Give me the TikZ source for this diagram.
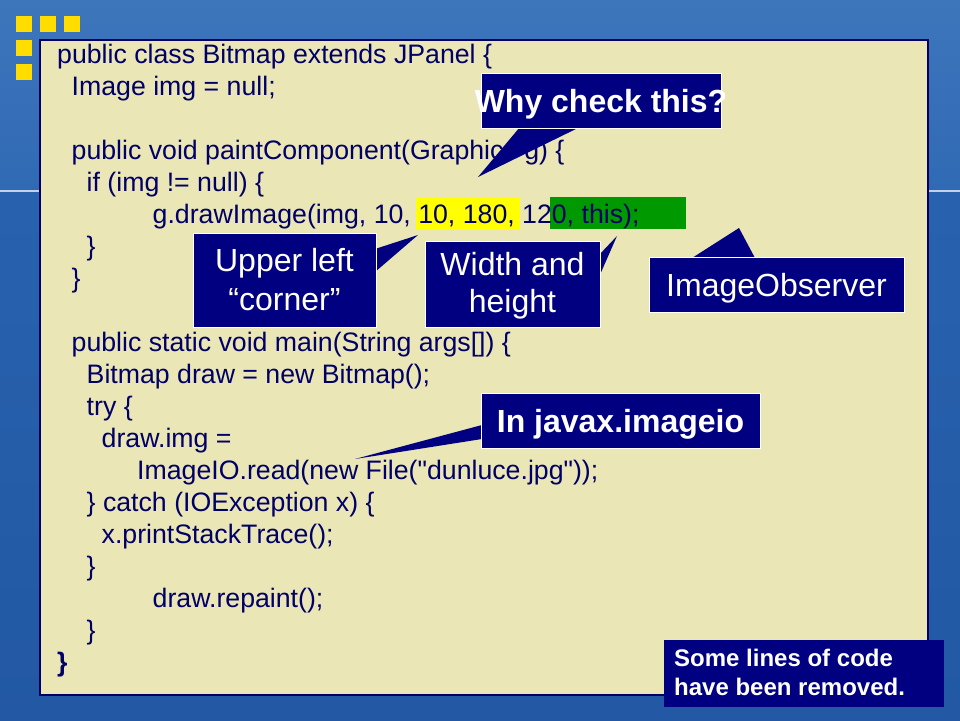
\documentclass[tikz,border=0pt]{standalone}
\usepackage{fontspec}
\setmainfont{Liberation Sans}
\newfontfamily\codefont{Liberation Sans}
\definecolor{bgtop}{RGB}{62,118,188}
\definecolor{bgmid}{RGB}{48,106,180}
\definecolor{bgmidb}{RGB}{40,98,174}
\definecolor{bgbot}{RGB}{34,88,164}
\definecolor{linecol}{RGB}{196,210,232}
\definecolor{sqyellow}{RGB}{255,221,0}
\definecolor{panelfill}{RGB}{234,230,182}
\definecolor{panelline}{RGB}{0,0,100}
\definecolor{codeblue}{RGB}{0,0,102}
\definecolor{navy}{RGB}{0,0,128}
\definecolor{hlyellow}{RGB}{255,255,0}
\definecolor{hlgreen}{RGB}{0,153,0}
\begin{document}
\begin{tikzpicture}[x=1pt,y=-1pt,
  code/.style={anchor=base west,inner sep=0pt,text=codeblue,font=\codefont\fontsize{26.7}{32}\selectfont},
  callbox/.style={fill=navy,draw=white,line width=0.8pt,inner sep=0pt,anchor=north west},
  calltext/.style={anchor=base,inner sep=0pt,text=white,font=\fontsize{32}{38}\selectfont},
  callbold/.style={calltext,font=\fontsize{32}{38}\selectfont\bfseries},
  notetext/.style={anchor=base west,inner sep=0pt,text=white,font=\fontsize{24}{29}\selectfont\bfseries},
  tail/.style={fill=navy},
  sq/.style={fill=sqyellow}]
\useasboundingbox (0,0) rectangle (960,720);
% background
\shade[top color=bgtop,bottom color=bgmid] (0,0) rectangle (960,190);
\shade[top color=bgmidb,bottom color=bgbot] (0,190) rectangle (960,720);
\draw[line width=2pt,linecol] (0,191) -- (960,191);
% yellow squares
\fill[sq] (16,16) rectangle (32,32);
\fill[sq] (40,16) rectangle (56,32);
\fill[sq] (64,16) rectangle (80,32);
\fill[sq] (16,40) rectangle (32,56);
\fill[sq] (16,64) rectangle (32,80);
% panel
\draw[fill=panelfill,draw=panelline,line width=2pt] (40,40) rectangle (928,695);
% highlights
\fill[hlyellow] (416,197) rectangle (520,229);
\fill[hlgreen] (550,197) rectangle (686,229);
% code
\node[code] (c1) at (57,63.5) {public class Bitmap extends JPanel \{};
\node[code] (c2) at (71.5,95.5) {Image img = null;};
\node[code] (c4) at (71.5,159.5) {public void paintComponent(Graphics g) \{};
\node[code] (c5) at (86.5,191.5) {if (img != null) \{};
\node[code] (c6) at (152.5,223.5) {g.drawImage(img, 10, 10, 180, 120, this);};
\node[code] (c7) at (86.5,255.5) {\}};
\node[code] (c8) at (71.5,287.5) {\}};
\node[code] (c10) at (71.5,351.5) {public static void main(String args[]) \{};
\node[code] (c11) at (86.5,383.5) {Bitmap draw = new Bitmap();};
\node[code] (c12) at (86.5,415.5) {try \{};
\node[code] (c13) at (101.5,447.5) {draw.img =};
\node[code] (c14) at (137,479.5) {ImageIO.read(new File("dunluce.jpg"));};
\node[code] (c15) at (86.5,511.5) {\} catch (IOException x) \{};
\node[code] (c16) at (101.5,543.5) {x.printStackTrace();};
\node[code] (c17) at (86.5,575.5) {\}};
\node[code] (c18) at (152.5,607.5) {draw.repaint();};
\node[code] (c19) at (86.5,639.5) {\}};
\node[code,font=\codefont\fontsize{26.7}{32}\selectfont\bfseries] (c20) at (57,671.5) {\}};
% callout: Why check this?
\coordinate (whyA) at (520,127);
\coordinate (whyB) at (580,127);
\coordinate (whyTip) at (478,177);
\fill[tail] (whyA) -- (whyTip) -- (whyB) -- cycle;
\node[callbox,minimum width=240pt,minimum height=55pt] (why) at (481,73) {};
\node[callbold] (whyT) at (601,112) {Why check this?};
% callout: Upper left corner
\coordinate (ulA) at (375,249);
\coordinate (ulB) at (375,272);
\coordinate (ulTip) at (418,235);
\fill[tail] (ulA) -- (ulTip) -- (ulB) -- cycle;
\node[callbox,minimum width=183pt,minimum height=94pt] (ul) at (193,233) {};
\node[calltext] (ulT1) at (284.5,271.5) {Upper left};
\node[calltext] (ulT2) at (284.5,310) {“corner”};
% callout: Width and height
\coordinate (whA) at (599,255);
\coordinate (whB) at (599,277);
\coordinate (whTip) at (617,236);
\fill[tail] (whA) -- (whTip) -- (whB) -- cycle;
\node[callbox,minimum width=175pt,minimum height=86pt] (wh) at (425,241) {};
\node[calltext] (whT1) at (512.5,275) {Width and};
\node[calltext] (whT2) at (512.5,312) {height};
% callout: ImageObserver
\coordinate (ioA) at (692,258);
\coordinate (ioB) at (755,258);
\coordinate (ioTip) at (739,228);
\fill[tail] (ioA) -- (ioTip) -- (ioB) -- cycle;
\node[callbox,minimum width=255pt,minimum height=55pt] (io) at (649,257) {};
\node[calltext] (ioT) at (776.5,296.5) {ImageObserver};
% callout: In javax.imageio
\coordinate (jxA) at (482,425);
\coordinate (jxB) at (482,439);
\coordinate (jxTip) at (355,459);
\fill[tail] (jxA) -- (jxTip) -- (jxB) -- cycle;
\node[callbox,minimum width=279pt,minimum height=55pt] (jx) at (481,393) {};
\node[callbold] (jxT) at (620.5,432.5) {In javax.imageio};
% note box
\node[fill=navy,inner sep=0pt,anchor=north west,minimum width=280pt,minimum height=67pt] (note) at (664,640) {};
\node[notetext] (noteT1) at (674,666) {Some lines of code};
\node[notetext] (noteT2) at (674,695) {have been removed.};
\end{tikzpicture}
\end{document}
